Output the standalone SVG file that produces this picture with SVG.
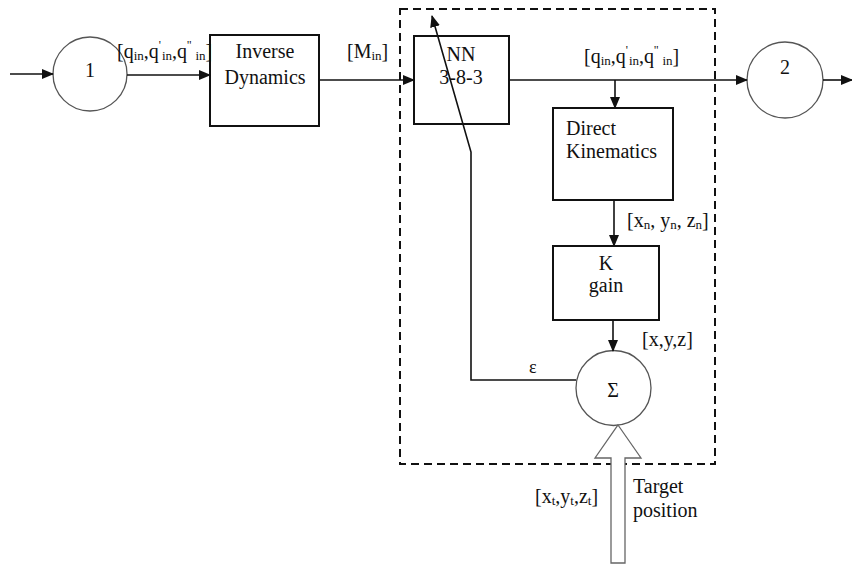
<svg xmlns="http://www.w3.org/2000/svg" width="852" height="564" viewBox="0 0 852 564">
<style>
text{font-family:'Liberation Serif','DejaVu Serif',serif;font-size:20px;fill:#111}
.c{text-anchor:middle}
.sub{font-size:13px}
.sup{font-size:12px}
.box{fill:#fff;stroke:#111;stroke-width:2}
.circ{fill:#fff;stroke:#555;stroke-width:1.3}
.ln{fill:none;stroke:#111;stroke-width:1.6}
</style>
<defs>
<marker id="ah" markerWidth="12" markerHeight="10" refX="11" refY="5" orient="auto" markerUnits="userSpaceOnUse">
<path d="M0,0 L12,5 L0,10 Z" fill="#111"/>
</marker>
</defs>
<rect id="boundary" x="400" y="9" width="315" height="455" fill="none" stroke="#111" stroke-width="2" stroke-dasharray="8,5"/>
<g font-family="Liberation Serif, serif">
<g id="node1">
<circle class="circ" cx="90" cy="74" r="37"/>
<text class="c" x="90" y="77">1</text>
</g>
<g id="inverse-dynamics">
<rect class="box" x="210" y="35" width="109" height="91"/>
<text class="c" x="265" y="58">Inverse</text>
<text class="c" x="265" y="84">Dynamics</text>
</g>
<g id="nn">
<rect class="box" x="414" y="36" width="95" height="88"/>
<text class="c" x="461" y="61">NN</text>
<text class="c" x="461" y="84">3-8-3</text>
</g>
<g id="node2">
<circle class="circ" cx="785" cy="80" r="38"/>
<text class="c" x="785" y="74">2</text>
</g>
<g id="direct-kinematics">
<rect class="box" x="553" y="108" width="120" height="92"/>
<text x="566" y="135">Direct</text>
<text x="566" y="158">Kinematics</text>
</g>
<g id="k-gain">
<rect class="box" x="553" y="246" width="106" height="74"/>
<text class="c" x="606" y="270">K</text>
<text class="c" x="606" y="292">gain</text>
</g>
<g id="sum">
<circle class="circ" cx="613.5" cy="388" r="37.5"/>
<text class="c" x="613" y="397">Σ</text>
</g>
</g>
<g id="connectors">
<path class="ln" d="M10,74 H53" marker-end="url(#ah)"/>
<path class="ln" d="M127,75 H210" marker-end="url(#ah)"/>
<path class="ln" d="M319,80 H414" marker-end="url(#ah)"/>
<path class="ln" d="M509,80 H747" marker-end="url(#ah)"/>
<path class="ln" d="M823,80 H852" marker-end="url(#ah)"/>
<path class="ln" d="M615,80 V108" marker-end="url(#ah)"/>
<path class="ln" d="M614,200 V246" marker-end="url(#ah)"/>
<path class="ln" d="M613,320 V351" marker-end="url(#ah)"/>
<path class="ln" d="M576,380 H471 V152 L432,16" marker-end="url(#ah)"/>
<polygon points="618,425 641,458 625,458 625,563 611,563 611,458 595,458" fill="#fff" stroke="#666" stroke-width="1.3"/>
</g>
<g id="labels" font-family="Liberation Serif, serif">
<text x="117" y="58">[q<tspan class="sub" dy="2">in</tspan><tspan dy="-2">,q</tspan><tspan class="sup" dy="-9">'</tspan><tspan class="sub" dy="11" dx="1">in</tspan><tspan dy="-2">,q</tspan><tspan class="sup" dy="-9">''</tspan><tspan class="sub" dy="11" dx="4">in</tspan><tspan dy="-2">]</tspan></text>
<text x="347" y="58">[M<tspan class="sub" dy="2">in</tspan><tspan dy="-2">]</tspan></text>
<text x="584" y="63">[q<tspan class="sub" dy="2">in</tspan><tspan dy="-2">,q</tspan><tspan class="sup" dy="-9">'</tspan><tspan class="sub" dy="11" dx="1">in</tspan><tspan dy="-2">,q</tspan><tspan class="sup" dy="-9">''</tspan><tspan class="sub" dy="11" dx="4">in</tspan><tspan dy="-2">]</tspan></text>
<text x="627" y="227">[x<tspan class="sub" dy="2">n</tspan><tspan dy="-2">, y</tspan><tspan class="sub" dy="2">n</tspan><tspan dy="-2">, z</tspan><tspan class="sub" dy="2">n</tspan><tspan dy="-2">]</tspan></text>
<text x="642" y="346">[x,y,z]</text>
<text x="529" y="373" style="font-size:18px">ε</text>
<text x="535" y="503">[x<tspan class="sub" dy="2">t</tspan><tspan dy="-2">,y</tspan><tspan class="sub" dy="2">t</tspan><tspan dy="-2">,z</tspan><tspan class="sub" dy="2">t</tspan><tspan dy="-2">]</tspan></text>
<text x="633" y="493">Target</text>
<text x="633" y="517">position</text>
</g>
</svg>
